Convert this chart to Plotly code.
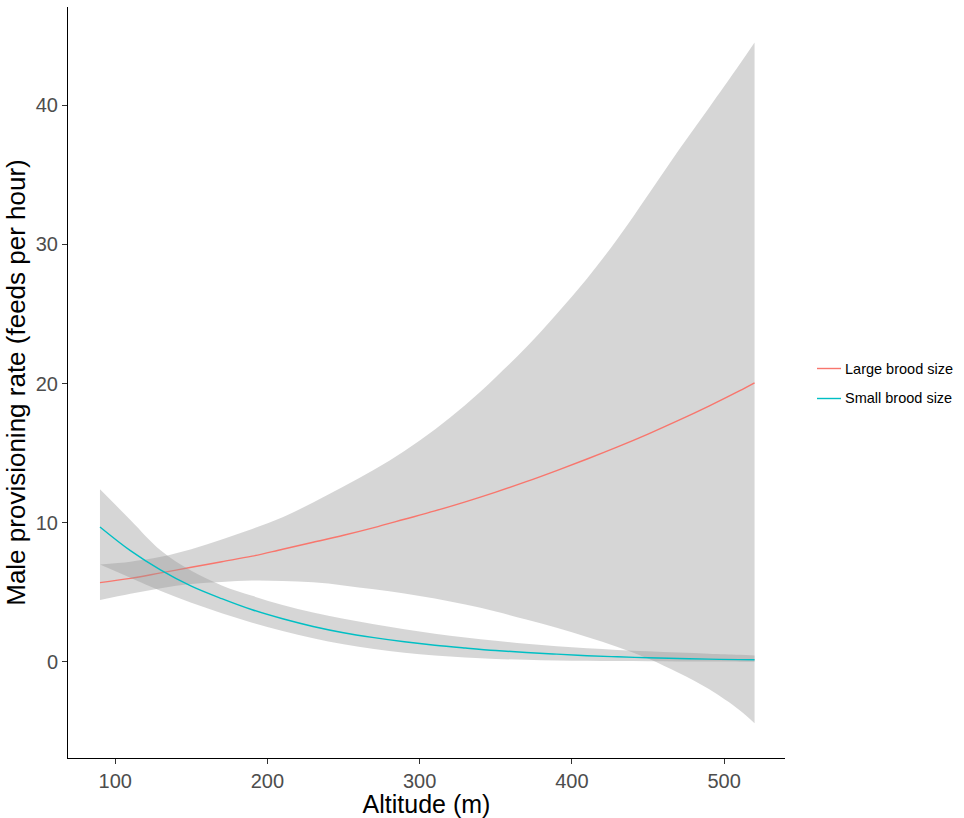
import plotly.graph_objects as go

# Altitude grid (m)
altitude = [90, 110, 130, 150, 170, 190, 210, 230, 250, 270, 290, 310, 330,
            350, 370, 390, 410, 430, 450, 470, 490, 510, 520]

# Large brood size: fitted rate and confidence band
large_fit = [5.7, 6.0, 6.4, 6.8, 7.2, 7.6, 8.1, 8.6, 9.1, 9.65, 10.25, 10.85, 11.5,
             12.2, 12.95, 13.75, 14.58, 15.45, 16.37, 17.35, 18.38, 19.47, 20.05]
large_upper = [7.0, 7.2, 7.55, 8.1, 8.8, 9.55, 10.4, 11.45, 12.6, 13.8, 15.15, 16.7, 18.45,
               20.45, 22.6, 25.0, 27.55, 30.4, 33.55, 36.75, 39.8, 42.9, 44.5]
large_lower = [4.45, 4.9, 5.3, 5.6, 5.75, 5.85, 5.82, 5.72, 5.5, 5.22, 4.92, 4.55, 4.12,
               3.62, 3.05, 2.45, 1.8, 1.08, 0.25, -0.78, -1.95, -3.45, -4.4]

# Small brood size: fitted rate and confidence band
small_fit = [9.7, 8.0, 6.6, 5.45, 4.55, 3.75, 3.1, 2.55, 2.1, 1.75, 1.45, 1.2, 1.0,
             0.82, 0.68, 0.56, 0.45, 0.37, 0.30, 0.25, 0.20, 0.17, 0.16]
small_upper = [12.4, 10.2, 8.0, 6.55, 5.5, 4.75, 4.1, 3.55, 3.1, 2.7, 2.35, 2.02, 1.75,
               1.52, 1.3, 1.12, 0.98, 0.86, 0.76, 0.67, 0.59, 0.51, 0.47]
small_lower = [7.0, 6.05, 5.1, 4.25, 3.5, 2.82, 2.22, 1.7, 1.27, 0.93, 0.66, 0.46, 0.32,
               0.22, 0.15, 0.10, 0.08, 0.06, 0.05, 0.04, 0.03, 0.02, 0.01]

x_ticks = [100, 200, 300, 400, 500]
y_ticks = [0, 10, 20, 30, 40]

series = [
    ("Large brood size", large_fit, large_lower, large_upper, "#F8766D"),
    ("Small brood size", small_fit, small_lower, small_upper, "#00BFC4"),
]

band_fill = "rgba(153,153,153,0.4)"

fig = go.Figure()
for i, (name, fit, lo, hi, col) in enumerate(series):
    fig.add_trace(go.Scatter(x=altitude, y=lo, mode="lines", line=dict(width=0, shape="spline"),
                             showlegend=False, hoverinfo="skip"))
    fig.add_trace(go.Scatter(x=altitude, y=hi, mode="lines", line=dict(width=0, shape="spline"),
                             fill="tonexty", fillcolor=band_fill,
                             showlegend=False, hoverinfo="skip"))
    fig.add_trace(go.Scatter(x=altitude, y=fit, mode="lines", name=name,
                             showlegend=False,
                             line=dict(color=col, width=1.4, shape="spline")))

# Manual legend (ggplot-style keys to the right of the panel)
W_PLOT, H_PLOT, L, B = 717.0, 751.0, 68.0, 758.0
def px_x(px):
    return (px - L) / W_PLOT
def px_y(py):
    return (B - py) / H_PLOT

legend_rows = [368.5, 398.5]
for (name, _, _, _, col), row in zip(series, legend_rows):
    fig.add_shape(type="line", xref="paper", yref="paper",
                  x0=px_x(817), x1=px_x(841), y0=px_y(row), y1=px_y(row),
                  line=dict(color=col, width=1.4))
    fig.add_annotation(xref="paper", yref="paper", x=px_x(843), y=px_y(row),
                       xanchor="left", yanchor="middle", showarrow=False,
                       text=name, font=dict(size=14.5, color="black"))

font_family = "Liberation Sans, Arial, sans-serif"

fig.update_layout(
    width=964, height=818,
    margin=dict(l=68, r=179, t=7, b=60),
    plot_bgcolor="white", paper_bgcolor="white",
    font=dict(family=font_family, color="black"),
    showlegend=False,
    xaxis=dict(range=[69, 540], tickvals=x_ticks, showgrid=False, zeroline=False,
               showline=True, linecolor="black", linewidth=1, automargin=False,
               ticks="outside", ticklen=5, tickcolor="#333333", tickwidth=1,
               tickfont=dict(size=20, color="#4D4D4D"),
               title=dict(text="Altitude (m)", font=dict(size=25, color="black"), standoff=3)),
    yaxis=dict(range=[-6.9, 47.05], tickvals=y_ticks, showgrid=False, zeroline=False,
               showline=True, linecolor="black", linewidth=1, automargin=False,
               ticks="outside", ticklen=5, tickcolor="#333333", tickwidth=1,
               tickfont=dict(size=20, color="#4D4D4D"),
               title=dict(text="Male provisioning rate (feeds per hour)",
                          font=dict(size=26, color="black"), standoff=2)),
)

fig.write_html("out.html", config={"displayModeBar": False},
               post_script="document.body.style.margin='0px';")
